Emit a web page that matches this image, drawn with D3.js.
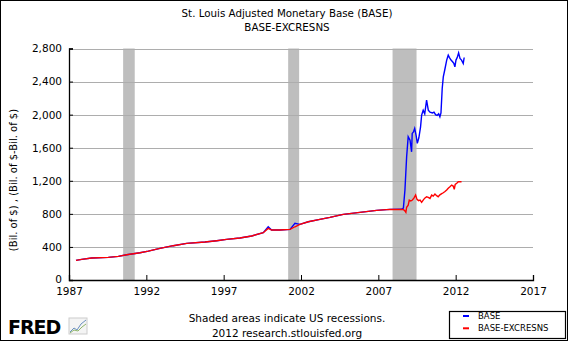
<!DOCTYPE html>
<html><head><meta charset="utf-8">
<script src="https://cdn.jsdelivr.net/npm/d3@7"></script>
<style>body{margin:0;background:#fff}svg{display:block}text{font-family:"DejaVu Sans",Verdana,sans-serif;fill:#000}</style>
</head><body>
<script>
// ---- data ----
const earlyYears = [1987.45,1987.82,1988.47,1989.54,1990.19,1990.73,1991.59,1992.13,1992.88,1993.74,1994.61,1995.79,1996.55,1997.19,1998.05,1998.81,1999.56,1999.88,2000.1,2000.64,2001.29,2001.61,2001.93,2002.47,2003.22,2003.87,2004.73,2005.81,2006.89,2007.75,2008.5,2008.62];
const earlyBase = [238,250,266,274,286,306,330,350,383,415,443,459,475,491,508,532,572,644,604,604,612,685,673,705,733,757,794,818,842,854,856,870];
const earlyExc  = [238,250,266,274,286,306,330,350,383,415,443,459,475,491,508,532,572,624,604,604,612,644,673,705,733,757,794,818,842,854,852,854];

const lateBaseYears = [2008.72,2008.83,2008.93,2009.05,2009.15,2009.19,2009.27,2009.35,2009.45,2009.52,2009.62,2009.73,2009.8,2009.9,2010.0,2010.12,2010.23,2010.34,2010.5,2010.6,2010.7,2010.8,2010.9,2010.98,2011.05,2011.13,2011.2,2011.3,2011.42,2011.52,2011.6,2011.7,2011.8,2011.88,2011.95,2012.02,2012.1,2012.19,2012.28,2012.38,2012.49,2012.55];
const lateBase = [1088,1490,1732,1690,1550,1773,1790,1833,1740,1652,1720,1853,1994,2054,2010,2175,2054,2030,2020,2030,2000,1990,2010,1973,2020,2317,2457,2546,2659,2719,2690,2660,2640,2620,2578,2660,2690,2747,2680,2660,2619,2691];

const lateExcYears = [2008.72,2008.78,2008.83,2008.93,2009.0,2009.1,2009.2,2009.3,2009.41,2009.5,2009.6,2009.7,2009.8,2009.9,2010.0,2010.12,2010.23,2010.34,2010.45,2010.55,2010.66,2010.77,2010.87,2010.98,2011.1,2011.2,2011.31,2011.42,2011.52,2011.63,2011.74,2011.84,2011.91,2011.97,2012.07,2012.17,2012.28,2012.38];
const lateExc = [835,818,880,906,967,955,967,990,1027,975,960,967,939,967,990,1007,1000,987,1027,1015,1039,1020,1007,1030,1045,1055,1070,1088,1110,1128,1148,1136,1096,1156,1170,1188,1188,1188];

const recessions = [[1990.5,1991.25],[2001.17,2001.88],[2007.92,2009.47]];
const yTicks = [0,400,800,1200,1600,2000,2400,2800];
const xTicks = [1987,1992,1997,2002,2007,2012,2017];
const seriesNames = ["BASE","BASE-EXCRESNS"];
const seriesColors = ["#0000ff","#ff0000"];

// ---- build ----
const W=568,H=341;
const svg=d3.select("body").append("svg").attr("width",W).attr("height",H);
svg.append("rect").attr("x",0.5).attr("y",0.5).attr("width",W-1).attr("height",H-1).attr("fill","#fff").attr("stroke","#000");

const x=d3.scaleLinear().domain([1987,2017]).range([69,533]);
const y=d3.scaleLinear().domain([0,2800]).range([280,48.5]);

svg.append("text").attr("x",287).attr("y",17).attr("text-anchor","middle").style("font-size","10.3px").text("St. Louis Adjusted Monetary Base (BASE)");
svg.append("text").attr("x",287).attr("y",31).attr("text-anchor","middle").style("font-size","10.3px").text("BASE-EXCRESNS");

// recessions
svg.selectAll("rect.rec").data(recessions).enter().append("rect")
  .attr("x",d=>x(d[0])).attr("width",d=>x(d[1])-x(d[0]))
  .attr("y",y(2800)).attr("height",y(0)-y(2800)).attr("fill","#bebebe");

// gridlines
svg.selectAll("line.grid").data(yTicks.filter(v=>v>0)).enter().append("line")
  .attr("x1",x(1987)).attr("x2",x(2017)).attr("y1",d=>Math.round(y(d))+0.5).attr("y2",d=>Math.round(y(d))+0.5)
  .attr("stroke","#adadad").attr("stroke-width",1.2);

// axes
const yAxis=svg.append("g").attr("transform",`translate(${x(1987)},0)`)
  .call(d3.axisLeft(y).tickValues(yTicks).tickFormat(d3.format(",")).tickSize(-4).tickPadding(7));
const xAxis=svg.append("g").attr("transform",`translate(0,${y(0)})`)
  .call(d3.axisBottom(x).tickValues(xTicks).tickFormat(d3.format("d")).tickSize(-5).tickPadding(5));
[yAxis,xAxis].forEach(g=>{g.select(".domain").attr("stroke","#000").attr("stroke-width",1.3);
  g.selectAll(".tick line").attr("stroke","#000");
  g.selectAll("text").style("font-size","10.5px").attr("font-family",null);});
xAxis.selectAll("text").attr("dy","0.95em");
yAxis.selectAll(".tick").filter(d=>d===0).select("text").attr("dy","0.2em");

// lines
const line=d3.line().x(d=>x(d[0])).y(d=>y(d[1]));
const baseData=earlyYears.map((t,i)=>[t,earlyBase[i]]).concat(lateBaseYears.map((t,i)=>[t,lateBase[i]]));
const excData=earlyYears.map((t,i)=>[t,earlyExc[i]]).concat(lateExcYears.map((t,i)=>[t,lateExc[i]]));
svg.append("path").datum(baseData).attr("d",line).attr("fill","none").attr("stroke",seriesColors[0]).attr("stroke-width",1.4);
svg.append("path").datum(excData).attr("d",line).attr("fill","none").attr("stroke",seriesColors[1]).attr("stroke-width",1.4);

// y title
svg.append("text").attr("transform","translate(17,180) rotate(-90)").attr("text-anchor","middle").style("font-size","10px")
  .text("(Bil. of $) , (Bil. of $-Bil. of $)");

// footer
svg.append("text").attr("x",287).attr("y",322).attr("text-anchor","middle").style("font-size","10.5px").text("Shaded areas indicate US recessions.");
svg.append("text").attr("x",287).attr("y",337).attr("text-anchor","middle").style("font-size","10.5px").text("2012 research.stlouisfed.org");

// FRED logo
svg.append("text").attr("x",8).attr("y",334).style("font-size","19px").style("font-weight","bold").attr("font-family","'DejaVu Sans',sans-serif").style("letter-spacing","-1px").text("FRED");
const ic=svg.append("g").attr("transform","translate(69,318)");
ic.append("rect").attr("width",18).attr("height",16).attr("fill","#f4f4f4").attr("stroke","#ccc");
ic.append("path").attr("d","M1,14 L5,10 L8,12 L12,6 L17,2").attr("fill","none").attr("stroke","#6a8fc0").attr("stroke-width",1);
ic.append("path").attr("d","M1,15 L5,12 L9,13 L13,9 L17,6").attr("fill","none").attr("stroke","#8fb56a").attr("stroke-width",1);

// legend
const lg=svg.append("g");
lg.append("rect").attr("x",449.5).attr("y",311.5).attr("width",116).attr("height",27).attr("fill","#fff").attr("stroke","#000").attr("stroke-width",1.2);
seriesNames.forEach((n,i)=>{
  const yy=316+i*12.3;
  lg.append("line").attr("x1",463).attr("x2",469).attr("y1",yy).attr("y2",yy).attr("stroke",seriesColors[i]).attr("stroke-width",2);
  lg.append("text").attr("x",478).attr("y",yy+3).style("font-size","8.5px").text(n);
});
</script>
</body></html>
